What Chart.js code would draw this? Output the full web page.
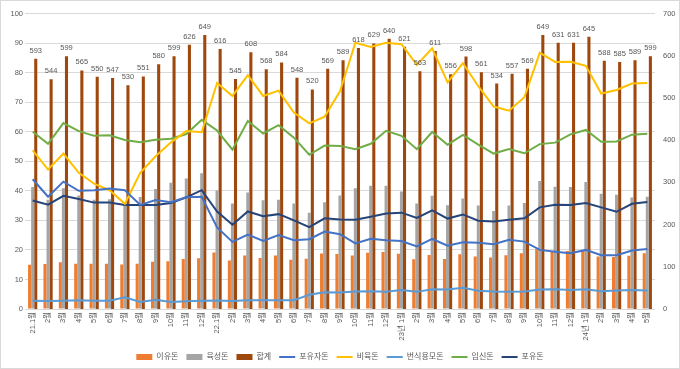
<!DOCTYPE html>
<html lang="ko">
<head>
<meta charset="utf-8">
<script src="https://cdn.jsdelivr.net/npm/chart.js@4.4.1/dist/chart.umd.min.js"></script>
<style>
  html, body { margin: 0; padding: 0; background: #fff; }
  #box { width: 680px; height: 369px; box-sizing: border-box; border: 1px solid #d9d9d9; }
  #myChart { display: block; }
</style>
</head>
<body>
<div id="box"><canvas id="myChart" width="678" height="367"></canvas></div>
<script>
'use strict';

// months 21.1 ~ 24.5
let monthLabels = ['21.1월', '2월', '3월', '4월', '5월', '6월', '7월', '8월', '9월', '10월', '11월', '12월',
    '22.1월', '2월', '3월', '4월', '5월', '6월', '7월', '8월', '9월', '10월', '11월', '12월',
    '23년 1월', '2월', '3월', '4월', '5월', '6월', '7월', '8월', '9월', '10월', '11월', '12월',
    '24년 1월', '2월', '3월', '4월', '5월'];

// bars (left axis)
let weanPigs = [15.0, 15.2, 15.8, 15.3, 15.3, 15.3, 15.1, 15.3, 16.0, 16.2, 16.9, 17.2, 19.1, 16.4,
    18.1, 17.3, 18.1, 16.7, 17.0, 18.8, 18.6, 18.1, 19.0, 19.3, 18.7, 16.8, 18.3, 16.9,
    18.5, 17.8, 17.4, 18.2, 18.9, 20.2, 19.4, 19.6, 19.6, 17.8, 17.6, 18.0, 18.9];
let growPigs = [41.3, 37.0, 40.9, 38.4, 37.0, 37.1, 35.2, 37.9, 40.6, 42.7, 44.2, 45.9, 40.1, 35.7,
    39.4, 36.8, 37.0, 35.7, 32.6, 36.1, 38.4, 40.9, 41.7, 41.7, 39.8, 35.7, 38.3, 35.1,
    37.4, 35.0, 33.2, 35.0, 35.9, 43.3, 41.4, 41.3, 43.0, 39.0, 38.7, 37.7, 38.0];
// total (right axis)
let totalPigs = [593, 544, 599, 565, 550, 547, 530, 551, 580, 599, 626, 649,
    616, 545, 608, 568, 584, 548, 520, 569, 589, 618, 629, 640,
    621, 563, 611, 556, 598, 561, 534, 557, 569, 649, 631, 631,
    645, 588, 585, 589, 599];

// lines (left axis)
let sucklingPigs = [43.9, 38.0, 43.1, 40.0, 40.2, 40.8, 40.2, 35.2, 36.9, 36.1, 37.8, 38.0, 27.6, 22.7,
    25.2, 23.0, 25.0, 23.3, 23.6, 26.2, 25.3, 22.2, 23.8, 23.3, 23.0, 21.2, 23.7, 21.4,
    22.6, 22.4, 21.9, 23.4, 22.8, 20.0, 19.4, 18.9, 20.0, 18.2, 18.2, 19.8, 20.3];
let finishPigs = [53.7, 47.2, 52.6, 46.1, 42.4, 40.2, 35.6, 46.1, 51.7, 56.4, 60.2, 59.8, 76.5,
    72.1, 79.1, 72.1, 73.9, 66.5, 62.8, 65.1, 73.7, 90.1, 88.7, 90.1, 89.6, 82.6, 88.2,
    76.7, 83.2, 75.4, 68.5, 67.1, 71.7, 86.7, 83.6, 83.7, 82.3, 72.9, 74.1, 76.3, 76.5];
let breedSows = [2.8, 2.7, 2.8, 3.0, 2.8, 2.8, 4.0, 2.4, 3.1, 2.4, 2.6, 2.8, 2.9, 2.7,
    3.0, 3.0, 3.0, 3.0, 4.8, 5.7, 5.6, 5.9, 6.0, 5.8, 6.4, 5.8, 6.7, 6.6,
    7.2, 6.2, 5.9, 5.8, 5.9, 6.6, 6.7, 6.4, 6.7, 6.0, 6.3, 6.4, 6.3];
let pregSows = [60.0, 55.9, 62.9, 60.2, 58.6, 58.8, 57.2, 56.4, 57.3, 57.6, 59.2, 64.0, 60.4, 53.9,
    63.6, 59.4, 62.2, 58.0, 52.2, 55.3, 55.2, 54.1, 55.9, 60.3, 58.6, 54.1, 59.9, 55.6,
    58.9, 55.6, 52.6, 54.1, 52.7, 55.8, 56.3, 59.1, 60.6, 56.6, 56.7, 59.0, 59.3];
let lactSows = [36.7, 35.3, 38.3, 37.2, 36.0, 36.0, 35.2, 35.2, 35.2, 35.9, 37.8, 40.2, 33.0, 28.5,
    33.0, 31.4, 32.1, 30.0, 27.7, 30.7, 30.3, 30.2, 31.2, 32.3, 32.6, 30.8, 33.4, 30.6,
    32.0, 29.9, 29.6, 30.2, 30.7, 34.4, 35.3, 35.2, 35.9, 34.4, 32.9, 35.6, 36.2];

let leftTicks = { min: 0, max: 100, step: 10 };
let rightTicks = { min: 0, max: 700, step: 100 };

let textColor = '#595959';
let fontFamily = '"Liberation Sans", "Noto Sans CJK KR", sans-serif';

Chart.defaults.font.family = fontFamily;
Chart.defaults.color = textColor;

// numbers above the 합계 bars
let sumLabelPlugin = {
    id: 'sumLabels',
    afterDatasetsDraw(chart) {
        let ctx = chart.ctx;
        let meta = chart.getDatasetMeta(2);
        ctx.save();
        ctx.font = '7.5px ' + fontFamily;
        ctx.fillStyle = textColor;
        ctx.textAlign = 'center';
        ctx.textBaseline = 'alphabetic';
        meta.data.forEach((bar, i) => {
            ctx.fillText(totalPigs[i], bar.x, bar.y - 6);
        });
        ctx.restore();
    }
};

// nudge the legend a little lower
let legendShift = {
    id: 'legendShift',
    afterLayout(chart) {
        chart.legend.top += 3;
        chart.legend.bottom += 3;
    }
};

function lineSet(label, data, color) {
    return {
        type: 'line',
        label: label,
        data: data,
        yAxisID: 'y',
        borderColor: color,
        backgroundColor: color,
        borderWidth: 2,
        pointRadius: 0,
        pointStyle: 'line',
        tension: 0,
        order: 1
    };
}

function barSet(label, data, color, axis) {
    return {
        type: 'bar',
        label: label,
        data: data,
        yAxisID: axis,
        backgroundColor: color,
        borderWidth: 0,
        pointStyle: 'rect',
        categoryPercentage: 0.6,
        barPercentage: 1.0,
        order: 2
    };
}

let ctx = document.getElementById('myChart').getContext('2d');
let myChart = new Chart(ctx, {
    type: 'bar',
    data: {
        labels: monthLabels,
        datasets: [
            barSet('이유돈', weanPigs, '#ED7D31', 'y'),
            barSet('육성돈', growPigs, '#A5A5A5', 'y'),
            barSet('합계', totalPigs, '#9E480E', 'y2'),
            lineSet('포유자돈', sucklingPigs, '#4472C4'),
            lineSet('비육돈', finishPigs, '#FFC000'),
            lineSet('번식용모돈', breedSows, '#5B9BD5'),
            lineSet('임신돈', pregSows, '#70AD47'),
            lineSet('포유돈', lactSows, '#264478')
        ]
    },
    options: {
        responsive: false,
        animation: false,
        layout: { padding: { top: 8, left: 0, right: 0, bottom: 0 } },
        plugins: {
            tooltip: { enabled: false },
            legend: {
                position: 'bottom',
                labels: {
                    usePointStyle: true,
                    pointStyleWidth: 16,
                    boxHeight: 6,
                    padding: 8,
                    color: textColor,
                    font: { size: 8 },
                    sort: (a, b) => a.datasetIndex - b.datasetIndex
                }
            }
        },
        scales: {
            x: {
                grid: { display: false, drawTicks: false },
                border: { display: false },
                ticks: {
                    autoSkip: false,
                    minRotation: 90,
                    maxRotation: 90,
                    padding: 3,
                    color: textColor,
                    font: { size: 7.5 }
                },
                afterFit: (scale) => { scale.height = 33; }
            },
            y: {
                position: 'left',
                min: leftTicks.min,
                max: leftTicks.max,
                grid: { color: '#d9d9d9', drawTicks: false },
                border: { display: false },
                ticks: { stepSize: leftTicks.step, padding: 2, color: textColor, font: { size: 7.5 } },
                afterFit: (scale) => { scale.width = 24; }
            },
            y2: {
                position: 'right',
                min: rightTicks.min,
                max: rightTicks.max,
                grid: { display: false, drawTicks: false },
                border: { display: false },
                ticks: { stepSize: rightTicks.step, padding: 8, color: textColor, font: { size: 7.5 } },
                afterFit: (scale) => { scale.width = 24; }
            }
        }
    },
    plugins: [sumLabelPlugin, legendShift]
});
</script>
</body>
</html>
